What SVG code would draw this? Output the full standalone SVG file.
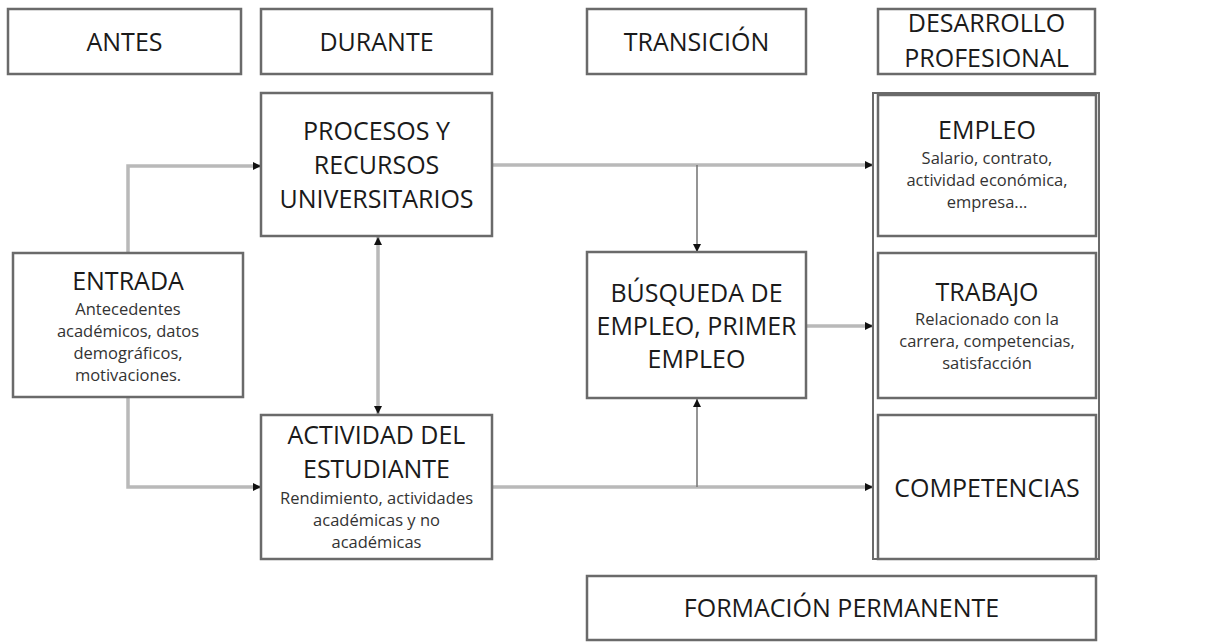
<svg xmlns="http://www.w3.org/2000/svg" width="1214" height="642" viewBox="0 0 1214 642">
<defs>
<style>
.box{fill:#fff;stroke:#6a6a6a;stroke-width:2.5}
.t{font-family:"Open Sans","Liberation Sans",sans-serif;fill:#1a1a1a;text-anchor:middle;font-size:25px}
.s{font-family:"Open Sans","Liberation Sans",sans-serif;fill:#333;text-anchor:middle;font-size:16.5px}
.c{fill:none;stroke:#b9b9b9;stroke-width:3.5}
.ct{fill:none;stroke:#7a7a7a;stroke-width:1.6}
</style>
<marker id="ah" viewBox="0 0 10 10" refX="10" refY="5" markerWidth="8" markerHeight="8" markerUnits="userSpaceOnUse" orient="auto-start-reverse">
<path d="M0,0 L10,5 L0,10 z" fill="#111"/>
</marker>
</defs>
<rect width="1214" height="642" fill="#fff"/>

<g id="connectors">
<polyline class="c" points="128,253 128,166 261,166" marker-end="url(#ah)"/>
<polyline class="c" points="128,397 128,487 261,487" marker-end="url(#ah)"/>
<line class="c" x1="378" y1="237" x2="378" y2="414" marker-start="url(#ah)" marker-end="url(#ah)"/>
<line class="c" x1="492" y1="165" x2="873" y2="165" marker-end="url(#ah)"/>
<line class="ct" x1="697" y1="165" x2="697" y2="252" marker-end="url(#ah)"/>
<line class="c" x1="806" y1="326" x2="873" y2="326" marker-end="url(#ah)"/>
<line class="c" x1="492" y1="487" x2="873" y2="487" marker-end="url(#ah)"/>
<line class="ct" x1="697" y1="487" x2="697" y2="399" marker-end="url(#ah)"/>
</g>

<g id="antes"><rect class="box" x="8" y="9" width="233" height="65"/><text class="t" x="124.5" y="51">ANTES</text></g>
<g id="durante"><rect class="box" x="261" y="9" width="231" height="65"/><text class="t" x="376.5" y="51">DURANTE</text></g>
<g id="transicion"><rect class="box" x="587" y="9" width="219" height="65"/><text class="t" x="696.5" y="51">TRANSICIÓN</text></g>
<g id="desarrollo"><rect class="box" x="878" y="9" width="217" height="65"/><text class="t" x="986.5" y="32">DESARROLLO</text><text class="t" x="986.5" y="67">PROFESIONAL</text></g>

<g id="procesos"><rect class="box" x="261" y="93" width="231" height="143"/>
<text class="t" x="376.5" y="140">PROCESOS Y</text><text class="t" x="376.5" y="174">RECURSOS</text><text class="t" x="376.5" y="208">UNIVERSITARIOS</text></g>

<g id="entrada"><rect class="box" x="13" y="253" width="230" height="144"/>
<text class="t" x="128" y="290">ENTRADA</text>
<text class="s" x="128" y="315">Antecedentes</text><text class="s" x="128" y="337">académicos, datos</text><text class="s" x="128" y="359">demográficos,</text><text class="s" x="128" y="381">motivaciones.</text></g>

<g id="actividad"><rect class="box" x="261" y="415" width="231" height="144"/>
<text class="t" x="376.5" y="444">ACTIVIDAD DEL</text><text class="t" x="376.5" y="478">ESTUDIANTE</text>
<text class="s" x="376.5" y="504">Rendimiento, actividades</text><text class="s" x="376.5" y="526">académicas y no</text><text class="s" x="376.5" y="548">académicas</text></g>

<g id="busqueda"><rect class="box" x="587" y="252" width="219" height="146"/>
<text class="t" x="696.5" y="302">BÚSQUEDA DE</text><text class="t" x="696.5" y="335">EMPLEO, PRIMER</text><text class="t" x="696.5" y="368">EMPLEO</text></g>

<g id="contenedor"><rect x="873" y="93" width="226" height="466" fill="none" stroke="#6a6a6a" stroke-width="2"/></g>

<g id="empleo"><rect class="box" x="878" y="95" width="218" height="141"/>
<text class="t" x="987" y="139">EMPLEO</text>
<text class="s" x="987" y="164">Salario, contrato,</text><text class="s" x="987" y="186">actividad económica,</text><text class="s" x="987" y="208">empresa...</text></g>

<g id="trabajo"><rect class="box" x="878" y="253" width="218" height="145"/>
<text class="t" x="987" y="301">TRABAJO</text>
<text class="s" x="987" y="325">Relacionado con la</text><text class="s" x="987" y="347">carrera, competencias,</text><text class="s" x="987" y="369">satisfacción</text></g>

<g id="competencias"><rect class="box" x="878" y="415" width="218" height="144"/>
<text class="t" x="987" y="497">COMPETENCIAS</text></g>

<g id="formacion"><rect class="box" x="587" y="576" width="509" height="64"/>
<text class="t" x="841.5" y="617">FORMACIÓN PERMANENTE</text></g>
</svg>
